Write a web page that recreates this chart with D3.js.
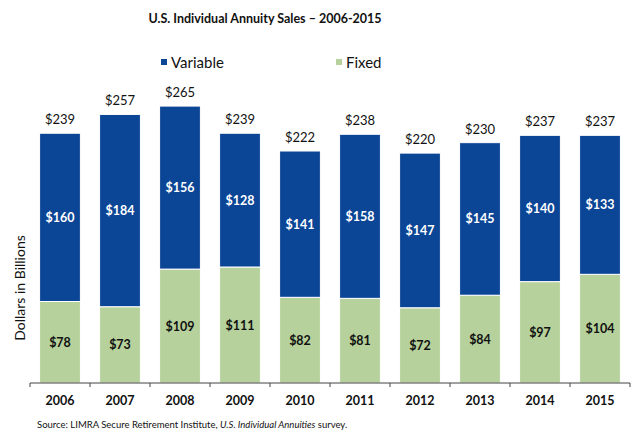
<!doctype html>
<html lang="en">
<head>
    <meta charset="utf-8">
    <script src="https://d3js.org/d3.v7.min.js"></script>
    <title>U.S. Individual Annuity Sales</title>
    <style>
        body { margin: 0; background: white; }
        svg { display: block; font-family: Lato, "Open Sans", sans-serif; }
    </style>
</head>
<body>
    <svg id="svg" width="632" height="431"></svg>
    <script>
        let years = ["2006", "2007", "2008", "2009", "2010", "2011", "2012", "2013", "2014", "2015"];
        let variable = [160, 184, 156, 128, 141, 158, 147, 145, 140, 133];
        let fixed = [78, 73, 109, 111, 82, 81, 72, 84, 97, 104];
        let totals = [239, 257, 265, 239, 222, 238, 220, 230, 237, 237];

        let width = 632, height = 431;
        let margin = { top: 70, right: 2, bottom: 48, left: 30 };
        let blue = "#0b4596", green = "#b6d19b";

        let svg = d3.select("#svg");

        let xScale = d3.scaleBand().domain(years)
            .range([margin.left, width - margin.right])
            .paddingInner(0.32).paddingOuter(0.16);
        let yScale = d3.scaleLinear().domain([0, 300])
            .range([height - margin.bottom, height - margin.bottom - 313.5]);

        let rows = years.map((y, i) => ({ year: y, variable: variable[i], fixed: fixed[i], total: totals[i] }));

        // title
        svg.append("text")
            .attr("x", 265).attr("y", 23)
            .attr("text-anchor", "middle")
            .attr("font-size", 12.5).attr("font-weight", "bold")
            .attr("fill", "#111")
            .text("U.S. Individual Annuity Sales \u2013 2006-2015");

        // legend
        let legendItems = [{ name: "Variable", color: blue, x: 161 }, { name: "Fixed", color: green, x: 336 }];
        let legend = svg.append("g").selectAll("g").data(legendItems).join("g")
            .attr("transform", d => `translate(${d.x}, 62)`);
        legend.append("rect").attr("x", 0).attr("y", -3).attr("width", 6).attr("height", 6).attr("fill", d => d.color);
        legend.append("text").attr("x", 10).attr("y", 5.5)
            .attr("font-size", 15).attr("fill", "#111")
            .text(d => d.name);

        // bars
        let bars = svg.append("g");
        bars.selectAll("rect.fixed").data(rows).join("rect")
            .attr("class", "fixed")
            .attr("x", d => xScale(d.year))
            .attr("width", xScale.bandwidth())
            .attr("y", d => yScale(d.fixed))
            .attr("height", d => yScale(0) - yScale(d.fixed))
            .attr("fill", green)
            .attr("stroke", "white").attr("stroke-width", 1);
        bars.selectAll("rect.variable").data(rows).join("rect")
            .attr("class", "variable")
            .attr("x", d => xScale(d.year))
            .attr("width", xScale.bandwidth())
            .attr("y", d => yScale(d.total))
            .attr("height", d => yScale(d.fixed) - yScale(d.total))
            .attr("fill", blue)
            .attr("stroke", "white").attr("stroke-width", 1);

        // segment labels
        let labels = svg.append("g").attr("text-anchor", "middle").attr("font-size", 12.5).attr("font-weight", "bold");
        labels.selectAll("text.v").data(rows).join("text")
            .attr("class", "v")
            .attr("x", d => xScale(d.year) + xScale.bandwidth() / 2)
            .attr("y", d => (yScale(d.total) + yScale(d.fixed)) / 2 + 4.5)
            .attr("fill", "white")
            .text(d => "$" + d.variable);
        labels.selectAll("text.f").data(rows).join("text")
            .attr("class", "f")
            .attr("x", d => xScale(d.year) + xScale.bandwidth() / 2)
            .attr("y", d => (yScale(d.fixed) + yScale(0)) / 2 + 4.5)
            .attr("fill", "#111")
            .text(d => "$" + d.fixed);
        svg.append("g").attr("text-anchor", "middle").attr("font-size", 13)
            .selectAll("text").data(rows).join("text")
            .attr("x", d => xScale(d.year) + xScale.bandwidth() / 2)
            .attr("y", d => yScale(d.total) - 9)
            .attr("fill", "#111")
            .text(d => "$" + d.total);

        // x axis
        let xAxis = svg.append("g")
            .attr("transform", `translate(0, ${yScale(0)})`);
        xAxis.append("line")
            .attr("x1", margin.left).attr("x2", width - margin.right)
            .attr("stroke", "#444").attr("stroke-width", 1.2);
        xAxis.selectAll("line.tick").data(years.concat(["end"])).join("line")
            .attr("class", "tick")
            .attr("x1", (d, i) => margin.left + i * (width - margin.left - margin.right) / years.length)
            .attr("x2", (d, i) => margin.left + i * (width - margin.left - margin.right) / years.length)
            .attr("y1", 0).attr("y2", 4)
            .attr("stroke", "#444");
        xAxis.selectAll("text").data(years).join("text")
            .attr("x", d => xScale(d) + xScale.bandwidth() / 2)
            .attr("y", 22)
            .attr("text-anchor", "middle")
            .attr("font-size", 12.5).attr("font-weight", "bold")
            .attr("fill", "#111")
            .text(d => d);

        // y label
        svg.append("text")
            .attr("transform", "translate(25, 288) rotate(-90)")
            .attr("text-anchor", "middle")
            .attr("font-size", 14).attr("fill", "#111")
            .text("Dollars in Billions");

        // source
        let src = svg.append("text")
            .attr("x", 37).attr("y", 428)
            .attr("font-size", 9.5).attr("fill", "#111");
        src.append("tspan").text("Source: LIMRA Secure Retirement Institute, ");
        src.append("tspan").attr("font-style", "italic").text("U.S. Individual Annuities");
        src.append("tspan").text(" survey.");
    </script>
</body>
</html>
